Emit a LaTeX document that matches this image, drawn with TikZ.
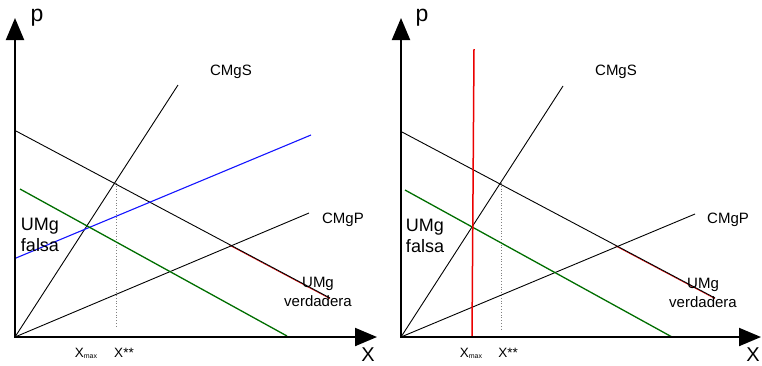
\documentclass[tikz,border=0pt]{standalone}
\usepackage{fontspec}
\setmainfont{Liberation Sans}
\usetikzlibrary{arrows.meta,calc}
\definecolor{mygreen}{RGB}{0,110,0}
\definecolor{myblue}{RGB}{20,20,255}
\definecolor{myred}{RGB}{235,0,0}
\begin{document}
\begin{tikzpicture}[x=1pt,y=-1pt,
  axis/.style={line width=2pt, line join=miter, {Triangle[length=22pt,width=18pt]}-{Triangle[length=22pt,width=18pt]}},
  curve/.style={line width=0.9pt, black},
  greenline/.style={line width=1.3pt, mygreen},
  blueline/.style={line width=1.1pt, myblue},
  redline/.style={line width=1.5pt, myred},
  redunder/.style={line width=0.7pt, myred},
  guide/.style={line width=0.8pt, gray, dotted},
  lab/.style={inner sep=0pt, font=\fontsize{15}{17}\selectfont},
  biglab/.style={inner sep=0pt, font=\fontsize{18}{21}\selectfont, align=left},
  verd/.style={inner sep=0pt, font=\fontsize{15}{19}\selectfont, align=center},
  plab/.style={inner sep=0pt, font=\fontsize{23}{26}\selectfont},
  axlab/.style={inner sep=0pt, font=\fontsize{20}{24}\selectfont},
  xlab/.style={inner sep=0pt, font=\fontsize{13.5}{15}\selectfont}]
\useasboundingbox (0,0) rectangle (762,365);
% ---------- left panel ----------
\coordinate (O1) at (15,337);
\coordinate (Y1) at (15,18);
\coordinate (X1) at (377,337);
\coordinate (S1) at (178,85);
\coordinate (Va1) at (16,131);
\coordinate (Vb1) at (330,298);
\coordinate (Ba1) at (16,258);
\coordinate (Bb1) at (311,135);
\coordinate (Ga1) at (20,189);
\coordinate (Gb1) at (287,336);
\coordinate (P1) at (309,213);
\coordinate (Da1) at (116,183);
\coordinate (Db1) at (116,328);
\draw[guide] (Da1) -- (Db1);
\draw[redunder] ($(Va1)!0.68!(Vb1)+(0,0.7)$) coordinate (Ra1) -- ($(Vb1)+(0,0.7)$) coordinate (Rb1);
\draw[curve] (Va1) -- (Vb1);
\draw[curve] (O1) -- (S1);
\draw[curve] (O1) -- (P1);
\draw[blueline] (Ba1) -- (Bb1);
\draw[greenline] (Ga1) -- (Gb1);
\draw[axis] (Y1) -- (O1) -- (X1);
\node[plab] (p1) at (37,18) {p};
\node[axlab] (xl1) at (368,355) {X};
\node[lab] (cs1) at (231,72) {CMgS};
\node[lab] (cp1) at (343,220) {CMgP};
\node[biglab] (uf1) at (40,234.5) {UMg\\falsa};
\node[verd] (uv1) at (318,291.5) {UMg\\verdadera};
\node[xlab] (xm1) at (86,353) {X\raisebox{-1pt}{\fontsize{7}{8}\selectfont max}};
\node[xlab] (xs1) at (124,353) {X**};
% ---------- right panel ----------
\coordinate (O2) at (401,337);
\coordinate (Y2) at (401,18);
\coordinate (X2) at (761,337);
\coordinate (S2) at (563,86);
\coordinate (Va2) at (402,132);
\coordinate (Vb2) at (715,298);
\coordinate (Ga2) at (405,190);
\coordinate (Gb2) at (672,337);
\coordinate (P2) at (695,214);
\coordinate (Ra2) at (474,49);
\coordinate (Rb2) at (472,337);
\coordinate (Da2) at (501,183);
\coordinate (Db2) at (501,330);
\draw[guide] (Da2) -- (Db2);
\draw[redunder] ($(Va2)!0.68!(Vb2)+(0,0.7)$) coordinate (Rc2) -- ($(Vb2)+(0,0.7)$) coordinate (Rd2);
\draw[curve] (Va2) -- (Vb2);
\draw[curve] (O2) -- (S2);
\draw[curve] (O2) -- (P2);
\draw[greenline] (Ga2) -- (Gb2);
\draw[redline] (Ra2) -- (Rb2);
\draw[axis] (Y2) -- (O2) -- (X2);
\node[plab] (p2) at (422,18) {p};
\node[axlab] (xl2) at (753,355) {X};
\node[lab] (cs2) at (616,72) {CMgS};
\node[lab] (cp2) at (728,220) {CMgP};
\node[biglab] (uf2) at (425,236) {UMg\\falsa};
\node[verd] (uv2) at (703,292.5) {UMg\\verdadera};
\node[xlab] (xm2) at (471,353) {X\raisebox{-1pt}{\fontsize{7}{8}\selectfont max}};
\node[xlab] (xs2) at (508,353) {X**};
\end{tikzpicture}
\end{document}
